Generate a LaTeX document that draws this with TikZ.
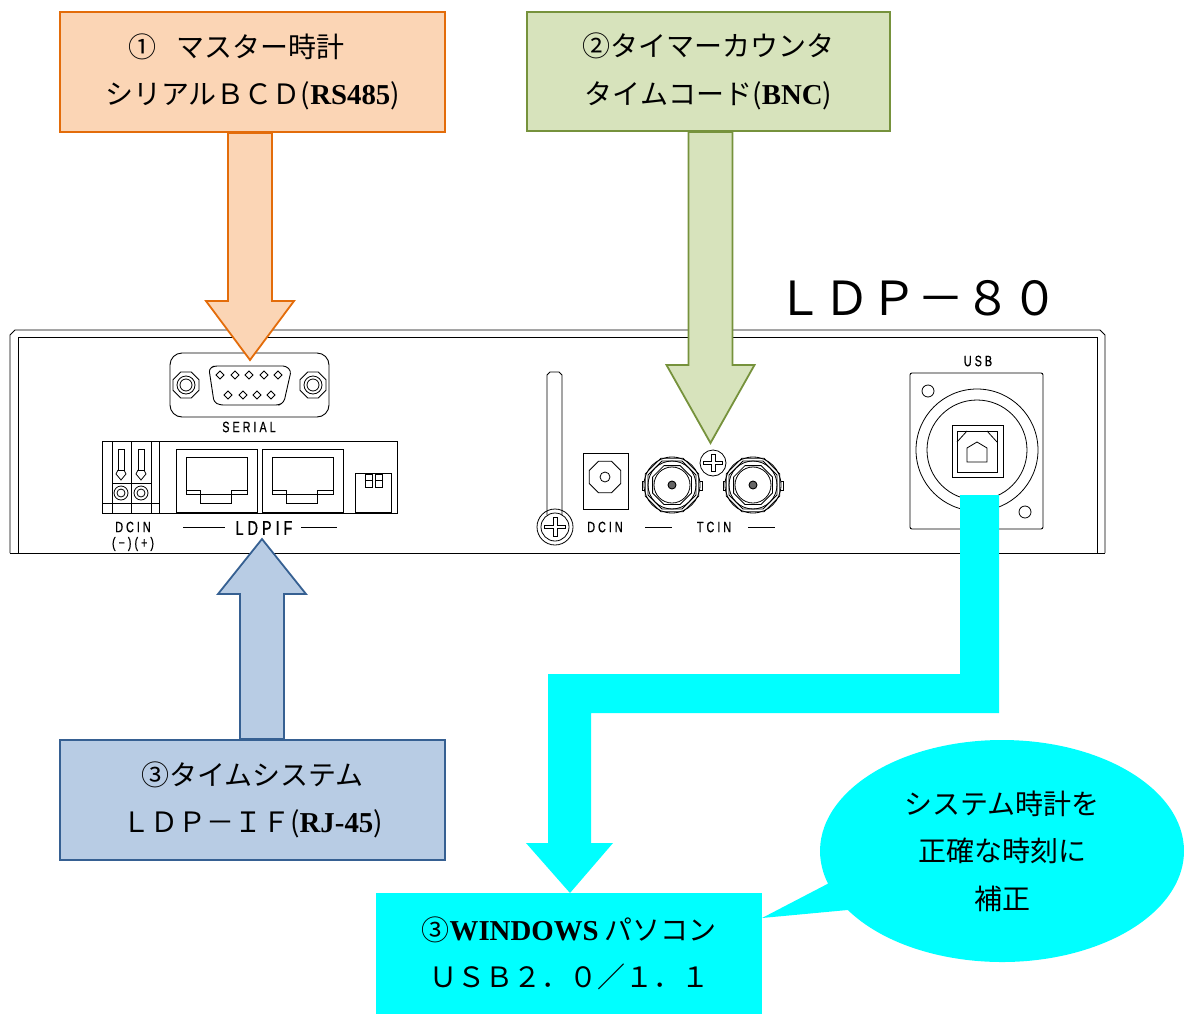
\documentclass[tikz,border=0pt]{standalone}
\usepackage{fontspec}
\setmainfont{Noto Sans CJK JP}
\newfontfamily\latf[Scale=1.03]{Liberation Serif}
\newfontfamily\panelf[FakeStretch=0.72,FakeBold=0.6]{Liberation Sans}
\usetikzlibrary{calc,shapes.callouts}
\definecolor{orangefill}{HTML}{FBD5B5}
\definecolor{orangeline}{HTML}{E36C0A}
\definecolor{greenfill}{HTML}{D7E3BC}
\definecolor{greenline}{HTML}{76923C}
\definecolor{bluefill}{HTML}{B8CCE4}
\definecolor{blueline}{HTML}{366092}
\definecolor{linkcyan}{HTML}{00FFFF}
\tikzset{
  infobox/.style={draw,align=center,inner sep=0pt,font=\fontsize{28}{47.5}\selectfont},
  orangestyle/.style={draw=orangeline,fill=orangefill,line width=1.8pt},
  greenstyle/.style={draw=greenline,fill=greenfill,line width=1.8pt},
  bluestyle/.style={draw=blueline,fill=bluefill,line width=1.8pt},
  cyanstyle/.style={fill=linkcyan},
  panel/.style={line width=0.9pt,black},
  thinpart/.style={line width=0.8pt,black},
  paneltext/.style={font=\panelf\fontsize{15}{16}\selectfont,inner sep=0pt},
}
\newcommand{\blockarrow}[4]{\draw[#1] let \p1=(#3), \p2=(#2) in
  (\x1-22pt,\y2) -- (\x1-22pt,\y1+#4) -- (\x1-44pt,\y1+#4) -- (\x1,\y1) --
  (\x1+44pt,\y1+#4) -- (\x1+22pt,\y1+#4) -- (\x1+22pt,\y2) -- cycle;}
\newcommand{\screwhead}[2]{\draw[thinpart,fill=white] #1 circle (#2);
  \draw[thinpart] #1 ++(-0.75*#2,-0.12*#2) -- ++(0.6*#2,0) -- ++(0,-0.55*#2) -- ++(0.3*#2,0) -- ++(0,0.55*#2) -- ++(0.6*#2,0)
    -- ++(0,0.24*#2) -- ++(-0.6*#2,0) -- ++(0,0.55*#2) -- ++(-0.3*#2,0) -- ++(0,-0.55*#2) -- ++(-0.6*#2,0) -- cycle;}
\newcommand{\octagon}[3]{\draw[thinpart] plot[samples=9,domain=22.5:382.5,smooth cycle,tension=0] ({#1+#3*cos(\x)},{#2+#3*sin(\x)});}
\begin{document}
\begin{tikzpicture}[x=1pt,y=-1pt]
\useasboundingbox (0,0) rectangle (1184,1015);
% front panel
\draw[panel] (10,553) -- (10,335) -- (15,330) -- (1100,330) -- (1105,335) -- (1105,553);
\draw[panel] (18,553) -- (18,337) -- (1097,337) -- (1097,553);
\draw[panel] (10,553) -- (1105,553);
% serial connector
\draw[panel,rounded corners=12pt] (170,353) rectangle (329,417);
\draw[panel,rounded corners=3pt] (209,369) -- (214,366) -- (286,366) -- (291,371) -- (284,402) -- (279,405) -- (220,405) -- (214,402) -- cycle;
\foreach \px in {220,235,249,264,278} \draw[thinpart] (\px-4,375) -- (\px,371) -- (\px+4,375) -- (\px,379) -- cycle;
\foreach \px in {228,243,257,271} \draw[thinpart] (\px-4,395) -- (\px,391) -- (\px+4,395) -- (\px,399) -- cycle;
\foreach \px in {186,313} {
  \octagon{\px}{385}{14}
  \draw[thinpart] (\px,385) circle (9);
  \draw[thinpart] (\px,385) circle (6);
}
\node[paneltext] (seriallabel) at (249,427) {S E R I A L};
% terminal block and RJ45
\draw[panel] (102,441) rectangle (397,513);
\foreach \px in {112,131,151,159} \draw[panel] (\px,441) -- (\px,513);
\draw[panel] (112,483) -- (151,483);
\draw[panel] (102,503) -- (159,503);
\foreach \px in {121,141} {
  \draw[thinpart] (\px,493) circle (7);
  \draw[thinpart] (\px,493) circle (4);
  \draw[thinpart] (\px-3,449) rectangle (\px+3,470);
  \draw[thinpart] (\px-3,470) -- (\px-5,474) -- (\px,480) -- (\px+5,474) -- (\px+3,470);
}
\foreach \px in {176,262} {
  \draw[thinpart] (\px,449) rectangle (\px+81,512);
  \draw[panel] (\px+10,457) -- (\px+71,457) -- (\px+71,494) -- (\px+10,494) -- cycle;
  \draw[thinpart] (\px+10,490) -- (\px+24,490) -- (\px+24,503) -- (\px+55,503) -- (\px+55,490) -- (\px+71,490);
}
\draw[thinpart] (355,473) rectangle (391,512);
\foreach \px in {365,375} {
  \draw[thinpart] (\px,474) rectangle (\px+7,487);
  \draw[thinpart] (\px,480) -- (\px+7,480);
}
\node[paneltext] (dcinleft) at (133,527) {D C I N};
\node[paneltext,font=\panelf\fontsize{15}{15}\selectfont] (polarity) at (133,544) {( − ) ( + )};
\node[paneltext,font=\panelf\fontsize{20}{20}\selectfont] (ldpif) at (264,528) {L D P I F};
\draw[panel] (183,527) -- (225,527);
\draw[panel] (301,527) -- (337,527);
% handle and DC jack
\draw[thinpart] (547,515) -- (547,375) -- (550,372) -- (559,372) -- (562,375) -- (562,515);
\draw[thinpart] (555,527) circle (18);
\screwhead{(555,527)}{14pt}
\draw[thinpart] (583,453) rectangle (628,509);
\octagon{605}{477}{17}
\draw[thinpart] (605,477) circle (5);
\node[paneltext] (dcinright) at (605,527) {D C I N};
% BNC connectors
\foreach \px in {672,753} {
  \draw[thinpart] (\px-30,481) rectangle (\px+30,490);
  \draw[thinpart,fill=white] (\px,485) circle (28);
  \octagon{\px}{485}{29}
  \octagon{\px}{485}{26}
  \draw[thinpart] (\px,485) circle (24);
  \octagon{\px}{485}{21}
  \draw[thinpart] (\px,485) circle (18);
  \draw[panel,fill=black!60] (\px,485) circle (4);
}
\screwhead{(713,463)}{13pt}
\node[paneltext] (tcin) at (714,527) {T C I N};
\draw[panel] (645,527) -- (672,527);
\draw[panel] (748,527) -- (775,527);
% USB connector
\node[paneltext] (usblabel) at (978,361) {U S B};
\draw[panel,rounded corners=2pt] (910,373) rectangle (1043,529);
\draw[thinpart] (977,450) circle (61);
\draw[thinpart] (977,450) circle (50);
\draw[panel] (952,425) rectangle (1003,477);
\draw[panel] (957,431) rectangle (997,472);
\draw[thinpart] (957,442) -- (967,431);
\draw[thinpart] (997,442) -- (987,431);
\draw[thinpart] (967,462) -- (967,448) -- (977,442) -- (987,448) -- (987,462) -- cycle;
\draw[thinpart] (928,391) circle (6);
\draw[thinpart] (1025,512) circle (6);
% title
\node[inner sep=0pt,font=\fontsize{47}{47}\selectfont] (title) at (917,298) {ＬＤＰ－８０};
% boxes
\node[infobox,orangestyle,minimum width=385pt,minimum height=120pt] (masterbox) at (252.5,72) {①\hspace{.7em}マスター時計\hspace*{32pt}\\シリアルＢＣＤ({\latf\bfseries RS485})};
\node[infobox,greenstyle,minimum width=363pt,minimum height=119pt] (timerbox) at (708.5,71.5) {②タイマーカウンタ\\タイムコード({\latf\bfseries BNC})};
\node[infobox,bluestyle,minimum width=385pt,minimum height=120pt] (ldpbox) at (252.5,800) {③タイムシステム\\ＬＤＰ－ＩＦ({\latf\bfseries RJ-45})};
\node[infobox,draw=none,fill=linkcyan,minimum width=386pt,minimum height=121pt] (pcbox) at (569,953.5) {③{\latf\bfseries WINDOWS}\hspace{.2em}パソコン\\ＵＳＢ２．０／１．１};
\node[ellipse callout,fill=linkcyan,minimum width=364pt,minimum height=222pt,align=center,inner sep=0pt,
  font=\fontsize{28}{47.5}\selectfont,callout absolute pointer={(762,918)},callout pointer width=80pt] (notecallout) at (1002,851) {システム時計を\\正確な時刻に\\補正};
% arrows
\coordinate (serialtip) at (250,360);
\coordinate (tctip) at (710.5,443);
\coordinate (ldptip) at (262,539);
\coordinate (pctip) at (570,893);
\coordinate (usbend) at (979.5,495);
\blockarrow{orangestyle}{masterbox.south}{serialtip}{59pt}
\blockarrow{greenstyle}{timerbox.south}{tctip}{78pt}
\blockarrow{bluestyle}{ldpbox.north}{ldptip}{-55pt}
\fill[cyanstyle] ($(usbend)+(-19.5,0)$) -- ($(usbend)+(19.5,0)$) -- ++(0,218) -- (591,713) -- (591,843) -- (613,843) -- (pctip) -- (526,843) -- (548,843) -- (548,674) -- ($(usbend)+(-19.5,179)$) -- cycle;
\end{tikzpicture}
\end{document}
